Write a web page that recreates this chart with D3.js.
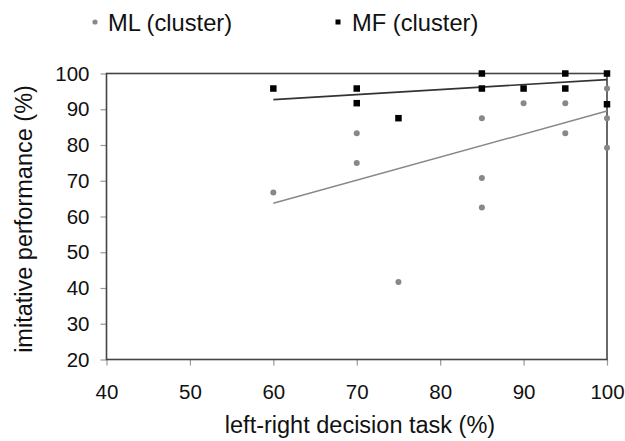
<!DOCTYPE html>
<html><head><meta charset="utf-8">
<script src="https://cdn.jsdelivr.net/npm/d3@7"></script>
<style>body{margin:0;background:#fff}text{font-family:"Liberation Sans",Arial,sans-serif;fill:#111}</style>
</head><body><svg id="c" width="625" height="441"></svg>
<script>
const mlX = [60,70,70,75,85,85,85,90,95,95,100,100,100];
const mlY = [66.7,83.3,75,41.7,87.5,70.8,62.5,91.7,91.7,83.3,95.8,87.5,79.2];
const mfX = [60,70,70,75,85,85,90,95,95,100,100];
const mfY = [95.8,95.8,91.7,87.5,100,95.8,95.8,100,95.8,100,91.4];
const mlTrendX = [60,100], mlTrendY = [63.7,89.5];
const mfTrendX = [60,100], mfTrendY = [92.7,98.3];
const xTicks = [40,50,60,70,80,90,100];
const yTicks = [20,30,40,50,60,70,80,90,100];
const legendLabels = ["ML (cluster)","MF (cluster)"];

const svg = d3.select("#c");
const L=106.5,R=607,T=73.5,B=359.5;
const x = d3.scaleLinear().domain([40,100]).range([L,R]);
const y = d3.scaleLinear().domain([20,100]).range([B,T]);
const axisCol="#444";

const gx = svg.append("g").attr("transform",`translate(0,${B})`)
  .call(d3.axisBottom(x).tickValues(xTicks).tickSize(6).tickPadding(19).tickFormat(d3.format("d")));
const gy = svg.append("g").attr("transform",`translate(${L},0)`)
  .call(d3.axisLeft(y).tickValues(yTicks).tickSize(6).tickPadding(11).tickFormat(d3.format("d")));
[gx,gy].forEach(g=>{
  g.select(".domain").remove();
  g.selectAll(".tick line").attr("stroke","#999").attr("stroke-width",1.2);
  g.selectAll(".tick text").style("font-size","20.5px").attr("fill","#111");
});
gx.selectAll(".tick text").attr("dy","0.71em");
// frame
svg.append("rect").attr("x",L).attr("y",T).attr("width",R-L).attr("height",B-T)
  .attr("fill","none").attr("stroke",axisCol).attr("stroke-width",1.6);

// trend lines
svg.append("line").attr("x1",x(mlTrendX[0])).attr("y1",y(mlTrendY[0])).attr("x2",x(mlTrendX[1])).attr("y2",y(mlTrendY[1]))
  .attr("stroke","#888").attr("stroke-width",1.4);
svg.append("line").attr("x1",x(mfTrendX[0])).attr("y1",y(mfTrendY[0])).attr("x2",x(mfTrendX[1])).attr("y2",y(mfTrendY[1]))
  .attr("stroke","#333").attr("stroke-width",1.6);

// points
svg.selectAll(".ml").data(mlX.map((d,i)=>[d,mlY[i]])).enter().append("circle")
  .attr("cx",d=>x(d[0])).attr("cy",d=>y(d[1])).attr("r",3).attr("fill","#888");
const s=6.5;
svg.selectAll(".mf").data(mfX.map((d,i)=>[d,mfY[i]])).enter().append("rect")
  .attr("x",d=>x(d[0])-s/2).attr("y",d=>y(d[1])-s/2).attr("width",s).attr("height",s).attr("fill","#000");

// axis titles
svg.append("text").attr("x",360).attr("y",433).attr("text-anchor","middle").style("font-size","23.5px").text("left-right decision task (%)");
svg.append("text").attr("transform",`translate(32,219) rotate(-90)`).attr("text-anchor","middle").style("font-size","23.5px").text("imitative performance (%)");

// legend
svg.append("circle").attr("cx",95).attr("cy",22).attr("r",2.6).attr("fill","#888");
svg.append("text").attr("x",108).attr("y",31).style("font-size","23.7px").text(legendLabels[0]);
svg.append("rect").attr("x",335.5).attr("y",19.5).attr("width",5).attr("height",5).attr("fill","#000");
svg.append("text").attr("x",352).attr("y",31).style("font-size","23.7px").text(legendLabels[1]);
</script></body></html>
